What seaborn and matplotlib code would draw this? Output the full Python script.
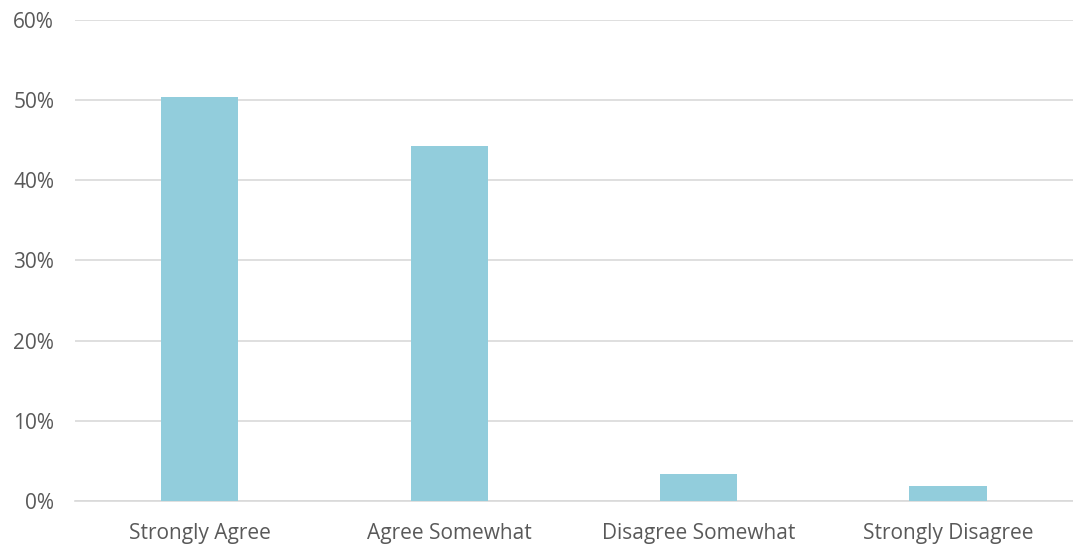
import matplotlib
matplotlib.use("Agg")
import matplotlib.pyplot as plt
import seaborn as sns
import pandas as pd
from matplotlib.ticker import PercentFormatter

categories = ["Strongly Agree", "Agree Somewhat", "Disagree Somewhat", "Strongly Disagree"]
shares = [50.4, 44.3, 3.4, 1.9]

df = pd.DataFrame({"response": categories, "share": shares})

sns.set_theme(style="white")
plt.rcParams["font.family"] = ["Open Sans", "DejaVu Sans"]

fig = plt.figure(figsize=(10.73, 5.48), dpi=100)
ax = fig.add_axes([0.0699, 0.0858, 0.93, 0.8777])

sns.barplot(data=df, x="response", y="share", color="#92CDDC", saturation=1,
            width=0.31, linewidth=0, ax=ax, zorder=3)

ax.set_ylim(0, 60)
ax.set_xlim(-0.5, 3.5)
ax.set_yticks(range(0, 61, 10))
ax.yaxis.set_major_formatter(PercentFormatter(decimals=0))
ax.grid(axis="y", color="#D9D9D9", linewidth=1.2, zorder=0)
ax.set_axisbelow(True)
for s in ["top", "right", "left"]:
    ax.spines[s].set_visible(False)
ax.spines["bottom"].set_color("#D9D9D9")
ax.spines["bottom"].set_linewidth(1.2)
ax.tick_params(axis="both", length=0, labelsize=15, colors="#595959")
ax.tick_params(axis="x", pad=16)
ax.tick_params(axis="y", pad=15)
ax.set_xlabel("")
ax.set_ylabel("")

fig.savefig("out.png", dpi=100)
